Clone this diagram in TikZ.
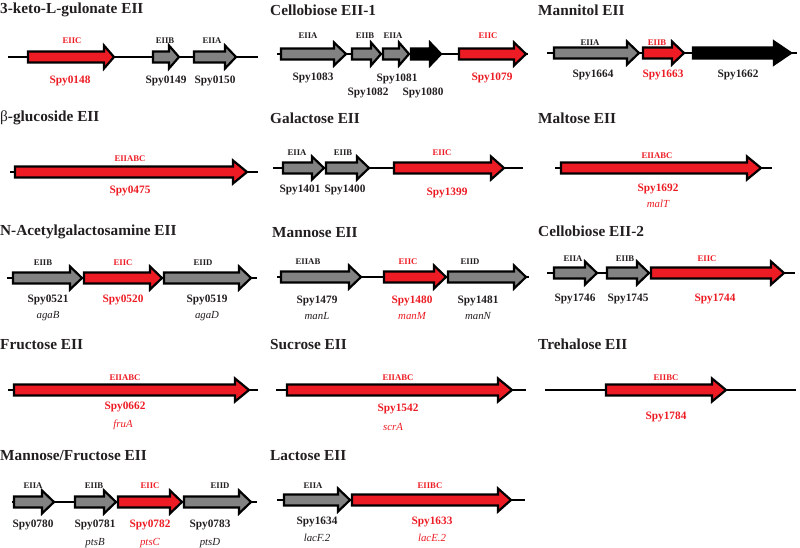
\documentclass[tikz,border=0pt]{standalone}
\usepackage{fontspec}
\setmainfont{Liberation Serif}
\definecolor{gred}{RGB}{237,28,36}
\definecolor{ggray}{RGB}{130,130,130}
\definecolor{ink}{RGB}{35,31,32}
\tikzset{
  ttl/.style={anchor=base west, font=\bfseries\fontsize{15.3}{17}\selectfont, text=ink, inner sep=0pt},
  eii/.style={anchor=base, font=\bfseries\fontsize{8.7}{10}\selectfont, text=ink, inner sep=0pt},
  spy/.style={anchor=base, font=\bfseries\fontsize{11.3}{13}\selectfont, text=ink, inner sep=0pt},
  gn/.style={anchor=base, font=\itshape\fontsize{10.8}{13}\selectfont, text=ink, inner sep=0pt},
  rt/.style={text=gred},
  chrom/.style={draw=black, line width=2.2pt},
  genebox/.style={draw=black, line width=2.2pt, line join=miter},
}
% \gene[head length]{x1}{x2}{y}{fill}
\newcommand{\gene}[5][13]{%
  \filldraw[genebox, fill=#5] ({#2+1},{#4-5.5}) -- ({#3-#1},{#4-5.5}) -- ({#3-#1},{#4-11.5}) -- ({#3-1},{#4}) -- ({#3-#1},{#4+11.5}) -- ({#3-#1},{#4+5.5}) -- ({#2+1},{#4+5.5}) -- cycle;}
\begin{document}
\begin{tikzpicture}[x=1pt,y=-1pt]
\useasboundingbox[fill=white] (0,0) rectangle (800,547);
% ---------- Panel 1
\node[ttl] (t1) at (0,13) {3-keto-L-gulonate EII};
\draw[chrom] (8,57) -- (258,57);
\gene[11]{27}{115}{57}{gred}
\gene[11]{152}{180}{57}{ggray}
\gene[12]{193}{237}{57}{ggray}
\node[eii,rt] (p1e1) at (72,43) {EIIC};
\node[spy,rt] (p1s1) at (70,83) {Spy0148};
\node[eii] (p1e2) at (165,43) {EIIB};
\node[spy] (p1s2) at (166,83) {Spy0149};
\node[eii] (p1e3) at (212,43) {EIIA};
\node[spy] (p1s3) at (215,83) {Spy0150};
% ---------- Panel 2
\node[ttl] (t2) at (270,15) {Cellobiose EII-1};
\draw[chrom] (277,54) -- (528,54);
\gene{280}{347}{54}{ggray}
\gene[11]{351}{382}{54}{ggray}
\gene[11]{382}{410}{54}{ggray}
\gene[12]{410}{442}{54}{black}
\gene{458}{527}{54}{gred}
\node[eii] (p2e1) at (308,38) {EIIA};
\node[spy] (p2s1) at (313,80) {Spy1083};
\node[eii] (p2e2) at (365,38) {EIIB};
\node[spy] (p2s2) at (368,95) {Spy1082};
\node[eii] (p2e3) at (393,38) {EIIA};
\node[spy] (p2s3) at (397,81) {Spy1081};
\node[spy] (p2s4) at (423,95) {Spy1080};
\node[eii,rt] (p2e5) at (488,38) {EIIC};
\node[spy,rt] (p2s5) at (492,80) {Spy1079};
% ---------- Panel 3
\node[ttl] (t3) at (538,15) {Mannitol EII};
\draw[chrom] (547,53) -- (797,53);
\gene{553}{640}{53}{ggray}
\gene{642}{685}{53}{gred}
\gene[18]{692}{792}{53}{black}
\node[eii] (p3e1) at (590,45) {EIIA};
\node[spy] (p3s1) at (593,77) {Spy1664};
\node[eii,rt] (p3e2) at (657,45) {EIIB};
\node[spy,rt] (p3s2) at (663,77) {Spy1663};
\node[spy] (p3s3) at (738,77) {Spy1662};
% ---------- Panel 4
\node[ttl] (t4) at (0,121) {{\mdseries β}-glucoside EII};
\draw[chrom] (10,172) -- (258,172);
\gene[15]{14}{248}{172}{gred}
\node[eii,rt] (p4e1) at (130,161) {EIIABC};
\node[spy,rt] (p4s1) at (130,193) {Spy0475};
% ---------- Panel 5
\node[ttl] (t5) at (270,123) {Galactose EII};
\draw[chrom] (273,168) -- (523,168);
\gene{282}{325}{168}{ggray}
\gene{325}{370}{168}{ggray}
\gene[14]{393}{505}{168}{gred}
\node[eii] (p5e1) at (297,155) {EIIA};
\node[spy] (p5s1) at (300,192) {Spy1401};
\node[eii] (p5e2) at (343,155) {EIIB};
\node[spy] (p5s2) at (345,192) {Spy1400};
\node[eii,rt] (p5e3) at (442,155) {EIIC};
\node[spy,rt] (p5s3) at (447,195) {Spy1399};
% ---------- Panel 6
\node[ttl] (t6) at (538,123) {Maltose EII};
\draw[chrom] (555,168) -- (772,168);
\gene[15]{560}{762}{168}{gred}
\node[eii,rt] (p6e1) at (657,158) {EIIABC};
\node[spy,rt] (p6s1) at (658,191) {Spy1692};
\node[gn,rt] (p6g1) at (658,207) {malT};
% ---------- Panel 7
\node[ttl] (t7) at (0,235) {N-Acetylgalactosamine EII};
\draw[chrom] (7,278) -- (257,278);
\gene{12}{83}{278}{ggray}
\gene{83}{163}{278}{gred}
\gene{163}{252}{278}{ggray}
\node[eii] (p7e1) at (43,265) {EIIB};
\node[spy] (p7s1) at (48,302) {Spy0521};
\node[gn] (p7g1) at (48,318) {agaB};
\node[eii,rt] (p7e2) at (123,265) {EIIC};
\node[spy,rt] (p7s2) at (123,302) {Spy0520};
\node[eii] (p7e3) at (203,265) {EIID};
\node[spy] (p7s3) at (207,302) {Spy0519};
\node[gn] (p7g3) at (207,318) {agaD};
% ---------- Panel 8
\node[ttl] (t8) at (272,237) {Mannose EII};
\draw[chrom] (277,277) -- (529,277);
\gene{280}{362}{277}{ggray}
\gene{383}{447}{277}{gred}
\gene{447}{527}{277}{ggray}
\node[eii] (p8e1) at (308,264) {EIIAB};
\node[spy] (p8s1) at (317,303) {Spy1479};
\node[gn] (p8g1) at (317,319) {manL};
\node[eii,rt] (p8e2) at (408,264) {EIIC};
\node[spy,rt] (p8s2) at (412,303) {Spy1480};
\node[gn,rt] (p8g2) at (412,319) {manM};
\node[eii] (p8e3) at (470,264) {EIID};
\node[spy] (p8s3) at (478,303) {Spy1481};
\node[gn] (p8g3) at (478,319) {manN};
% ---------- Panel 9
\node[ttl] (t9) at (538,236) {Cellobiose EII-2};
\draw[chrom] (547,273) -- (795,273);
\gene{553}{598}{273}{ggray}
\gene{606}{650}{273}{ggray}
\gene[14]{650}{785}{273}{gred}
\node[eii] (p9e1) at (573,261) {EIIA};
\node[spy] (p9s1) at (575,301) {Spy1746};
\node[eii] (p9e2) at (625,261) {EIIB};
\node[spy] (p9s2) at (628,301) {Spy1745};
\node[eii,rt] (p9e3) at (707,261) {EIIC};
\node[spy,rt] (p9s3) at (715,301) {Spy1744};
% ---------- Panel 10
\node[ttl] (t10) at (0,349) {Fructose EII};
\draw[chrom] (8,390) -- (258,390);
\gene[15]{13}{250}{390}{gred}
\node[eii,rt] (p10e1) at (125,380) {EIIABC};
\node[spy,rt] (p10s1) at (125,409) {Spy0662};
\node[gn,rt] (p10g1) at (123,427) {fruA};
% ---------- Panel 11
\node[ttl] (t11) at (270,349) {Sucrose EII};
\draw[chrom] (276,390) -- (526,390);
\gene[15]{286}{513}{390}{gred}
\node[eii,rt] (p11e1) at (398,380) {EIIABC};
\node[spy,rt] (p11s1) at (398,411) {Spy1542};
\node[gn,rt] (p11g1) at (393,430) {scrA};
% ---------- Panel 12
\node[ttl] (t12) at (538,349) {Trehalose EII};
\draw[chrom] (545,390) -- (796,390);
\gene[15]{605}{727}{390}{gred}
\node[eii,rt] (p12e1) at (666,380) {EIIBC};
\node[spy,rt] (p12s1) at (666,419) {Spy1784};
% ---------- Panel 13
\node[ttl] (t13) at (0,460) {Mannose/Fructose EII};
\draw[chrom] (12,502) -- (257,502);
\gene{13}{55}{502}{ggray}
\gene{74}{117}{502}{ggray}
\gene{117}{183}{502}{gred}
\gene{183}{252}{502}{ggray}
\node[eii] (p13e1) at (33,488) {EIIA};
\node[spy] (p13s1) at (33,527) {Spy0780};
\node[eii] (p13e2) at (94,488) {EIIB};
\node[spy] (p13s2) at (95,527) {Spy0781};
\node[gn] (p13g2) at (95,545) {ptsB};
\node[eii,rt] (p13e3) at (150,488) {EIIC};
\node[spy,rt] (p13s3) at (150,527) {Spy0782};
\node[gn,rt] (p13g3) at (150,545) {ptsC};
\node[eii] (p13e4) at (220,488) {EIID};
\node[spy] (p13s4) at (210,527) {Spy0783};
\node[gn] (p13g4) at (210,545) {ptsD};
% ---------- Panel 14
\node[ttl] (t14) at (270,460) {Lactose EII};
\draw[chrom] (277,500) -- (525,500);
\gene{283}{351}{500}{ggray}
\gene[14]{351}{512}{500}{gred}
\node[eii] (p14e1) at (313,488) {EIIA};
\node[spy] (p14s1) at (317,524) {Spy1634};
\node[gn] (p14g1) at (317,541) {lacF.2};
\node[eii,rt] (p14e2) at (430,488) {EIIBC};
\node[spy,rt] (p14s2) at (432,524) {Spy1633};
\node[gn,rt] (p14g2) at (432,541) {lacE.2};
\end{tikzpicture}
\end{document}
